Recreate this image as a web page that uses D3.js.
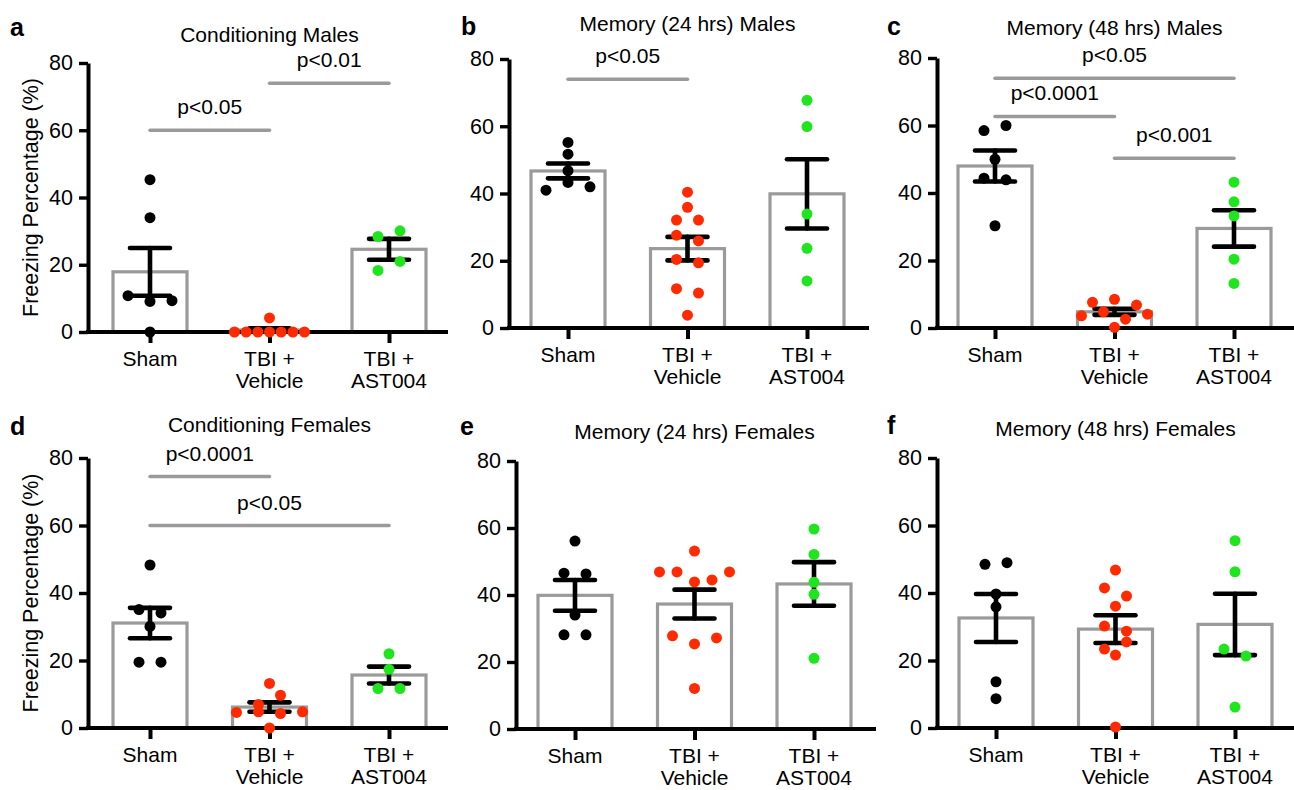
<!DOCTYPE html>
<html>
<head>
<meta charset="utf-8">
<script src="https://cdn.jsdelivr.net/npm/d3@7"></script>
<style>
  body { margin: 0; background: #fff; }
  text { font-family: "Liberation Sans", Arial, sans-serif; }
</style>
</head>
<body>
<svg id="chart" width="1294" height="790"></svg>
<script>
// ---------------------------------------------------------------- data
const groups = ["Sham", "TBI + Vehicle", "TBI + AST004"]
const groupLines = [["Sham"], ["TBI +", "Vehicle"], ["TBI +", "AST004"]]
const yTicks = [0, 20, 40, 60, 80]
const panelLetters = ["a", "b", "c", "d", "e", "f"]
const panelTitles = ["Conditioning Males", "Memory (24 hrs) Males", "Memory (48 hrs) Males",
    "Conditioning Females", "Memory (24 hrs) Females", "Memory (48 hrs) Females"]

// individual animals (freezing %), per group
const condMales = [[45.3, 34.0, 10.8, 9.1, 9.3, 0], [0, 0, 0, 4.2, 0, 0, 0, 0], [28.4, 30.1, 18.3, 21.0]]
const mem24Males = [[55.2, 51.7, 46.8, 41.0, 43.3, 42.0], [40.4, 35.9, 32.1, 32.1, 27.6, 25.9, 20.4, 19.4, 11.7, 10.4, 3.8], [67.7, 59.9, 33.9, 23.7, 14.0]]
const mem48Males = [[58.5, 60.0, 50.0, 44.4, 43.9, 30.3], [7.6, 8.5, 6.8, 3.6, 4.8, 2.6, 4.1, 0.2], [43.2, 37.4, 33.2, 20.4, 13.2]]
const condFemales = [[48.3, 35.1, 34.1, 30.1, 19.5, 19.5], [13.2, 7.0, 9.7, 4.6, 4.8, 4.3, 4.8, 0], [22.0, 17.4, 11.7, 11.7]]
const mem24Females = [[56.1, 46.5, 46.3, 34.0, 28.1, 28.1], [53.1, 46.9, 46.9, 43.9, 44.5, 46.9, 27.8, 25.4, 27.2, 12.1], [59.7, 52.1, 43.8, 40.2, 21.1]]
const mem48Females = [[48.5, 49.0, 39.7, 35.9, 13.7, 8.7], [46.8, 41.5, 39.1, 36.1, 30.2, 28.7, 23.4, 25.5, 21.6, 0.3], [55.5, 46.3, 23.4, 21.3, 6.2]]

// bar heights (mean) and error bars (SEM)
const condMalesMean = [17.9, 0.6, 24.6], condMalesSem = [7.1, 0.5, 3.1]
const mem24MalesMean = [46.7, 23.6, 39.9], mem24MalesSem = [2.2, 3.5, 10.3]
const mem48MalesMean = [48.0, 4.8, 29.5], mem48MalesSem = [4.6, 0.9, 5.4]
const condFemalesMean = [31.1, 6.2, 15.7], condFemalesSem = [4.5, 1.4, 2.5]
const mem24FemalesMean = [39.9, 37.3, 43.3], mem24FemalesSem = [4.6, 4.3, 6.5]
const mem48FemalesMean = [32.6, 29.3, 30.7], mem48FemalesSem = [7.1, 4.1, 9.1]

// significance brackets: from group, to group, level (%), label
const condMalesSig = [{ from: 0, to: 1, level: 60, label: "p<0.05" }, { from: 1, to: 2, level: 74, label: "p<0.01" }]
const mem24MalesSig = [{ from: 0, to: 1, level: 74, label: "p<0.05" }]
const mem48MalesSig = [{ from: 0, to: 2, level: 74, label: "p<0.05" }, { from: 0, to: 1, level: 62.7, label: "p<0.0001" }, { from: 1, to: 2, level: 50.3, label: "p<0.001" }]
const condFemalesSig = [{ from: 0, to: 1, level: 74.5, label: "p<0.0001" }, { from: 0, to: 2, level: 60, label: "p<0.05" }]
const mem24FemalesSig = []
const mem48FemalesSig = []

const panelDots = [condMales, mem24Males, mem48Males, condFemales, mem24Females, mem48Females]
const panelMeans = [condMalesMean, mem24MalesMean, mem48MalesMean, condFemalesMean, mem24FemalesMean, mem48FemalesMean]
const panelSems = [condMalesSem, mem24MalesSem, mem48MalesSem, condFemalesSem, mem24FemalesSem, mem48FemalesSem]
const panelSigs = [condMalesSig, mem24MalesSig, mem48MalesSig, condFemalesSig, mem24FemalesSig, mem48FemalesSig]

// ---------------------------------------------------------------- layout
const layout = [
    { ax: 88, top: 63, bottom: 332, first: 150, titleY: 42, lx: 10, ly: 36, ylabel: true },
    { ax: 509, top: 59, bottom: 328, first: 568, titleY: 31, lx: 461, ly: 35 },
    { ax: 937, top: 58, bottom: 328, first: 995, titleY: 35, lx: 887, ly: 35 },
    { ax: 88, top: 458, bottom: 728, first: 150, titleY: 432, lx: 10, ly: 435, ylabel: true },
    { ax: 516, top: 461, bottom: 729, first: 575, titleY: 439, lx: 460, ly: 435 },
    { ax: 937, top: 458, bottom: 728, first: 996, titleY: 436, lx: 887, ly: 434 }
]
const colors = ["#000000", "#ff2a00", "#1fe51f"]
const grey = "#9a9a9a"
const fontSize = 21
const dotR = 5.5

const svg = d3.select("#chart")

// spread points with similar values side by side (rows, like a scatter dot plot)
function swarm(vals, y) {
    const order = vals.map((v, i) => i).sort((a, b) => vals[b] - vals[a] || a - b)
    const off = vals.map(() => 0)
    let row = []
    const flush = () => {
        row.sort((a, b) => a - b)
        const n = row.length
        const gap = n > 1 ? Math.min(22, 70 / (n - 1)) : 0
        row.forEach((k, j) => off[k] = (j - (n - 1) / 2) * gap)
    }
    order.forEach(k => {
        if (row.length && Math.abs(y(vals[k]) - y(vals[row[0]])) > 10.5) { flush(); row = [] }
        row.push(k)
    })
    flush()
    return off
}

layout.forEach((L, p) => {
    const g = svg.append("g")

    const y = d3.scaleLinear().domain([0, 80]).range([L.bottom, L.top])
    const x = d3.scalePoint().domain(groups).range([L.first, L.first + 239])

    //panel letter + title
    g.append("text").attr("x", L.lx).attr("y", L.ly)
        .style("font-size", "25px").style("font-weight", "bold").text(panelLetters[p])
    g.append("text").attr("x", x(groups[1])).attr("y", L.titleY)
        .attr("text-anchor", "middle").style("font-size", fontSize + "px").text(panelTitles[p])

    if (L.ylabel) {
        g.append("text")
            .attr("transform", `translate(38,${(L.top + L.bottom) / 2}) rotate(-90)`)
            .attr("text-anchor", "middle").style("font-size", "21.5px")
            .text("Freezing Percentage (%)")
    }

    //bars
    g.selectAll(".bar").data(groups).join("rect")
        .attr("x", d => x(d) - 37)
        .attr("width", 74)
        .attr("y", (d, i) => y(panelMeans[p][i]))
        .attr("height", (d, i) => y(0) - y(panelMeans[p][i]))
        .attr("fill", "white").attr("stroke", grey).attr("stroke-width", 3.2)

    //significance lines
    panelSigs[p].forEach(s => {
        g.append("line")
            .attr("x1", x(groups[s.from])).attr("x2", x(groups[s.to]))
            .attr("y1", y(s.level)).attr("y2", y(s.level))
            .attr("stroke", grey).attr("stroke-width", 3.5).attr("stroke-linecap", "round")
        g.append("text")
            .attr("x", (x(groups[s.from]) + x(groups[s.to])) / 2)
            .attr("y", y(s.level) - 16)
            .attr("text-anchor", "middle").style("font-size", fontSize + "px")
            .text(s.label)
    })

    //error bars (mean ± SEM)
    groups.forEach((grp, i) => {
        const m = panelMeans[p][i], e = panelSems[p][i]
        const eb = g.append("g").attr("stroke", "black").attr("stroke-width", 4.6).attr("stroke-linecap", "round")
        eb.append("line").attr("x1", x(grp)).attr("x2", x(grp)).attr("y1", y(m + e)).attr("y2", y(m - e))
        eb.append("line").attr("x1", x(grp) - 20).attr("x2", x(grp) + 20).attr("y1", y(m + e)).attr("y2", y(m + e))
        eb.append("line").attr("x1", x(grp) - 20).attr("x2", x(grp) + 20).attr("y1", y(m - e)).attr("y2", y(m - e))
    })

    //y axis
    const yAxis = g.append("g")
        .attr("transform", `translate(${L.ax},0)`)
        .call(d3.axisLeft(y).tickValues(yTicks).tickSize(9).tickSizeOuter(0).tickPadding(6))
    yAxis.attr("font-family", null).attr("font-size", null)
    yAxis.select(".domain").attr("stroke-width", 4)
    yAxis.selectAll(".tick line").attr("stroke-width", 3.4)
    yAxis.selectAll(".tick text").style("font-size", "21.5px").attr("fill", "black")

    //x axis
    const xAxis = g.append("g")
        .attr("transform", `translate(0,${L.bottom})`)
        .call(d3.axisBottom(x).tickSize(11).tickFormat(""))
    xAxis.select(".domain").remove()
    xAxis.selectAll(".tick line").attr("stroke-width", 4)
    g.append("line")
        .attr("x1", L.ax - 2).attr("x2", L.ax + 360)
        .attr("y1", L.bottom).attr("y2", L.bottom)
        .attr("stroke", "black").attr("stroke-width", 4)

    groups.forEach((grp, i) => {
        const t = g.append("text").attr("text-anchor", "middle").style("font-size", fontSize + "px")
        groupLines[i].forEach((ln, j) => {
            t.append("tspan").attr("x", x(grp)).attr("y", L.bottom + 34 + j * 22).text(ln)
        })
    })

    //individual points
    groups.forEach((grp, i) => {
        const vals = panelDots[p][i]
        const off = swarm(vals, y)
        g.selectAll(null).data(vals).join("circle")
            .attr("cx", (d, k) => x(grp) + off[k])
            .attr("cy", d => y(d))
            .attr("r", dotR)
            .attr("fill", colors[i])
    })
})
</script>
</body>
</html>
